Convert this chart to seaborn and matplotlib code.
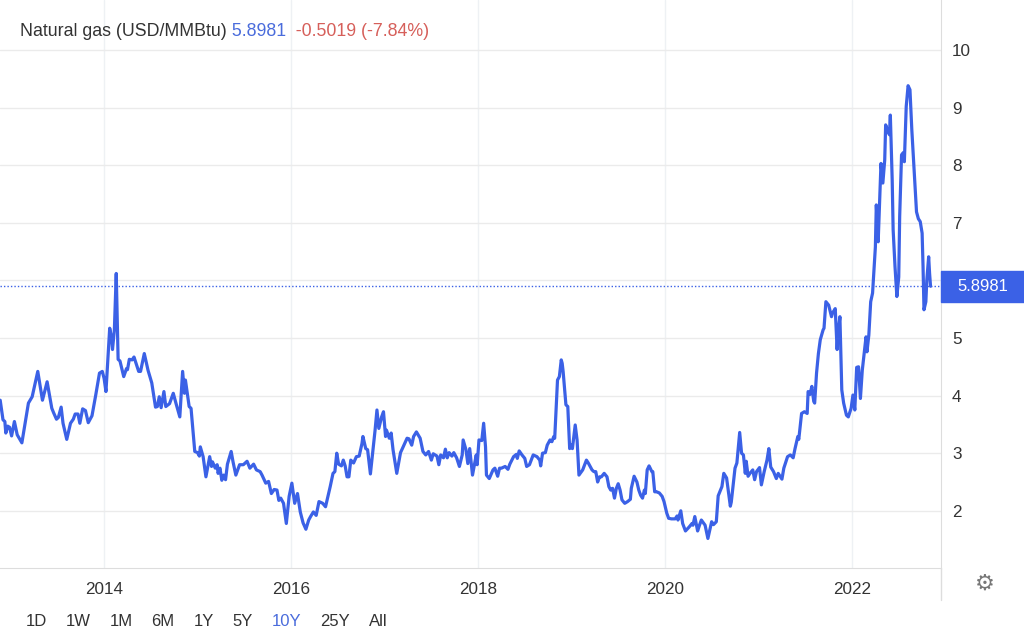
import pandas as pd
import matplotlib
matplotlib.use("Agg")
import matplotlib.pyplot as plt
import matplotlib.dates as mdates
from matplotlib.patches import Rectangle
from matplotlib.lines import Line2D
from matplotlib.transforms import blended_transform_factory
import seaborn as sns

# price history (decimal year, USD/MMBtu)
years = [
    2012.89, 2012.92, 2012.94, 2012.95, 2012.97, 2012.99, 2013.01, 2013.04, 2013.07, 2013.12,
    2013.19, 2013.23, 2013.29, 2013.34, 2013.39, 2013.44, 2013.46, 2013.49, 2013.51, 2013.54,
    2013.56, 2013.60, 2013.64, 2013.67, 2013.69, 2013.72, 2013.74, 2013.77, 2013.80, 2013.83,
    2013.87, 2013.91, 2013.95, 2013.98, 2014.00, 2014.02, 2014.06, 2014.08, 2014.09, 2014.11,
    2014.13, 2014.15, 2014.17, 2014.21, 2014.24, 2014.25, 2014.27, 2014.30, 2014.32, 2014.37,
    2014.39, 2014.43, 2014.47, 2014.51, 2014.55, 2014.57, 2014.59, 2014.61, 2014.64, 2014.66,
    2014.70, 2014.74, 2014.77, 2014.81, 2014.84, 2014.86, 2014.87, 2014.91, 2014.93, 2014.97,
    2015.00, 2015.02, 2015.03, 2015.06, 2015.09, 2015.13, 2015.15, 2015.16, 2015.19, 2015.21,
    2015.22, 2015.24, 2015.26, 2015.28, 2015.30, 2015.32, 2015.36,
    2015.38, 2015.41, 2015.45, 2015.49, 2015.53, 2015.56, 2015.60, 2015.63, 2015.67, 2015.69,
    2015.73, 2015.76, 2015.79, 2015.82, 2015.85, 2015.87, 2015.89, 2015.92, 2015.95, 2015.98,
    2016.01, 2016.04, 2016.07, 2016.10, 2016.13, 2016.16, 2016.19, 2016.21, 2016.24, 2016.27,
    2016.30, 2016.34, 2016.37, 2016.42, 2016.45, 2016.47, 2016.49, 2016.51, 2016.54, 2016.56,
    2016.58, 2016.60, 2016.62, 2016.64, 2016.67, 2016.70, 2016.73, 2016.76, 2016.77, 2016.80,
    2016.82, 2016.85, 2016.87, 2016.90, 2016.92, 2016.94, 2016.97, 2016.99, 2017.01, 2017.02,
    2017.05, 2017.07, 2017.09, 2017.13, 2017.17, 2017.19, 2017.24, 2017.26, 2017.29, 2017.31,
    2017.34, 2017.38, 2017.41, 2017.44, 2017.47, 2017.50, 2017.52, 2017.56, 2017.58, 2017.60,
    2017.63, 2017.65, 2017.67, 2017.69, 2017.72, 2017.74, 2017.77, 2017.80, 2017.83, 2017.84,
    2017.87, 2017.89, 2017.91, 2017.94, 2017.98, 2017.99, 2018.01, 2018.04, 2018.06, 2018.08,
    2018.09, 2018.12, 2018.16, 2018.18, 2018.21, 2018.23, 2018.25, 2018.29, 2018.32, 2018.34,
    2018.38, 2018.41, 2018.42, 2018.44, 2018.47, 2018.50, 2018.52, 2018.55, 2018.59, 2018.63,
    2018.66, 2018.67, 2018.69, 2018.72, 2018.74, 2018.77, 2018.79, 2018.81, 2018.82, 2018.85,
    2018.87, 2018.89, 2018.90, 2018.91, 2018.94, 2018.96, 2018.98, 2019.00, 2019.01, 2019.04,
    2019.06, 2019.08, 2019.12, 2019.16, 2019.18, 2019.22, 2019.24, 2019.26, 2019.28, 2019.30,
    2019.32, 2019.35, 2019.38, 2019.40, 2019.42, 2019.44, 2019.46, 2019.48, 2019.50, 2019.52,
    2019.54, 2019.57, 2019.60, 2019.63, 2019.64, 2019.67, 2019.70, 2019.72, 2019.74, 2019.76,
    2019.78, 2019.79, 2019.81, 2019.83, 2019.86, 2019.87, 2019.89, 2019.91, 2019.94, 2019.97,
    2019.99, 2020.02, 2020.04, 2020.07, 2020.11, 2020.13, 2020.14, 2020.17, 2020.19, 2020.22,
    2020.26, 2020.29, 2020.30, 2020.32, 2020.35, 2020.37, 2020.39, 2020.43, 2020.46, 2020.50,
    2020.52, 2020.55, 2020.57, 2020.61, 2020.63, 2020.66, 2020.70, 2020.71, 2020.75, 2020.77,
    2020.80, 2020.82, 2020.84, 2020.86, 2020.87, 2020.89, 2020.91, 2020.94, 2020.96, 2020.98,
    2021.01, 2021.03, 2021.06, 2021.09, 2021.11, 2021.13, 2021.16, 2021.19, 2021.21, 2021.23,
    2021.25, 2021.27, 2021.31, 2021.34, 2021.37, 2021.39, 2021.42, 2021.43, 2021.46, 2021.49,
    2021.52, 2021.53, 2021.55, 2021.57, 2021.59, 2021.60, 2021.62, 2021.64, 2021.66, 2021.69,
    2021.70, 2021.72, 2021.75, 2021.78, 2021.79, 2021.82, 2021.84, 2021.85, 2021.87, 2021.89,
    2021.91, 2021.94, 2021.96, 2021.99, 2022.01, 2022.03, 2022.05, 2022.07, 2022.09, 2022.11,
    2022.13, 2022.15, 2022.16, 2022.18, 2022.20, 2022.22, 2022.25, 2022.26, 2022.28, 2022.29,
    2022.31, 2022.33, 2022.35, 2022.36, 2022.38, 2022.40, 2022.41, 2022.43, 2022.44, 2022.46,
    2022.48, 2022.50, 2022.51, 2022.53, 2022.55, 2022.56, 2022.58, 2022.60, 2022.62, 2022.64,
    2022.66, 2022.67, 2022.69, 2022.71, 2022.73, 2022.75, 2022.76, 2022.77, 2022.79, 2022.80,
    2022.82, 2022.83, 2022.84,
]

prices = [
    3.92, 3.58, 3.55, 3.35, 3.47, 3.45, 3.30, 3.55, 3.32, 3.18,
    3.87, 3.98, 4.42, 3.92, 4.24, 3.78, 3.70, 3.59, 3.62, 3.80,
    3.52, 3.24, 3.52, 3.59, 3.68, 3.68, 3.52, 3.77, 3.74, 3.53,
    3.65, 4.01, 4.39, 4.42, 4.30, 4.07, 5.17, 5.00, 4.80, 5.14,
    6.12, 4.63, 4.60, 4.33, 4.47, 4.45, 4.63, 4.62, 4.67, 4.42,
    4.42, 4.73, 4.44, 4.22, 3.80, 3.81, 3.98, 3.79, 4.07, 3.81,
    3.86, 4.04, 3.86, 3.63, 4.42, 4.04, 4.27, 3.81, 3.78, 3.03,
    3.01, 2.95, 3.11, 2.94, 2.59, 2.94, 2.77, 2.85, 2.74, 2.80,
    2.65, 2.74, 2.53, 2.62, 2.54, 2.81, 3.03,
    2.85, 2.62, 2.80, 2.80, 2.86, 2.74, 2.81, 2.71, 2.68, 2.62,
    2.48, 2.51, 2.30, 2.37, 2.36, 2.18, 2.22, 2.13, 1.78, 2.25,
    2.48, 2.13, 2.30, 1.98, 1.79, 1.68, 1.84, 1.90, 1.98, 1.92,
    2.16, 2.13, 2.07, 2.42, 2.65, 2.68, 3.00, 2.81, 2.78, 2.88,
    2.78, 2.59, 2.59, 2.88, 2.83, 2.94, 2.95, 3.17, 3.29, 3.08,
    3.06, 2.64, 2.94, 3.40, 3.75, 3.43, 3.63, 3.72, 3.29, 3.40,
    3.26, 3.35, 3.06, 2.65, 3.01, 3.08, 3.26, 3.25, 3.14, 3.29,
    3.37, 3.26, 3.03, 2.97, 3.03, 2.88, 2.99, 2.95, 2.80, 2.97,
    2.92, 3.07, 2.92, 3.01, 2.95, 3.01, 2.92, 2.77, 2.97, 3.23,
    3.06, 2.82, 3.08, 2.62, 2.97, 2.80, 3.23, 3.22, 3.52, 3.11,
    2.62, 2.56, 2.71, 2.74, 2.60, 2.74, 2.74, 2.77, 2.72, 2.81,
    2.94, 2.98, 2.91, 3.04, 2.97, 2.91, 2.77, 2.80, 2.97, 2.94,
    2.88, 2.78, 3.00, 3.01, 3.14, 3.23, 3.20, 3.29, 3.26, 4.27,
    4.33, 4.62, 4.56, 4.42, 3.84, 3.81, 3.08, 3.14, 3.08, 3.49,
    3.23, 2.62, 2.71, 2.88, 2.83, 2.71, 2.68, 2.68, 2.50, 2.59,
    2.59, 2.65, 2.59, 2.42, 2.36, 2.39, 2.22, 2.39, 2.47, 2.36,
    2.19, 2.13, 2.16, 2.20, 2.39, 2.60, 2.50, 2.36, 2.27, 2.22,
    2.36, 2.30, 2.71, 2.78, 2.68, 2.68, 2.33, 2.33, 2.31, 2.25,
    2.16, 1.96, 1.87, 1.86, 1.86, 1.91, 1.84, 2.00, 1.78, 1.65,
    1.72, 1.78, 1.75, 1.90, 1.65, 1.75, 1.84, 1.75, 1.52, 1.81,
    1.76, 1.81, 2.26, 2.42, 2.65, 2.57, 2.08, 2.15, 2.74, 2.83,
    3.36, 3.00, 2.97, 2.65, 2.86, 2.60, 2.65, 2.71, 2.54, 2.68,
    2.75, 2.45, 2.68, 2.88, 3.08, 2.76, 2.68, 2.56, 2.65, 2.60,
    2.55, 2.74, 2.94, 2.97, 2.92, 3.08, 3.29, 3.24, 3.69, 3.72,
    3.69, 4.07, 4.02, 4.16, 3.90, 3.87, 4.39, 4.73, 4.97, 5.14,
    5.17, 5.63, 5.57, 5.37, 5.43, 5.51, 4.80, 5.08, 5.37, 4.10,
    3.87, 3.66, 3.63, 3.78, 4.01, 3.75, 4.49, 4.50, 3.95, 4.44,
    4.73, 5.02, 4.76, 5.05, 5.63, 5.78, 6.58, 7.31, 6.67, 7.14,
    8.03, 7.69, 8.09, 8.70, 8.61, 8.53, 8.87, 7.74, 6.88, 6.24,
    5.72, 6.06, 7.11, 8.18, 8.22, 8.06, 9.02, 9.38, 9.31, 8.61,
    8.03, 7.74, 7.19, 7.07, 7.02, 6.82, 6.24, 5.49, 5.63, 6.00,
    6.41, 6.12, 5.8981,
]
assert len(years) == len(prices)

change = -0.5019
change_pct = -7.84
tick_years = [2014, 2016, 2018, 2020, 2022]
y_ticks = [2, 3, 4, 5, 6, 7, 8, 9, 10]
y_labels = ["2", "3", "4", "5", "", "7", "8", "9", "10"]  # 6 sits under the price badge
ranges = ["1D", "1W", "1M", "6M", "1Y", "5Y", "10Y", "25Y", "All"]
active_range = "10Y"

BLUE = "#3b61e6"
TEXT_BLUE = "#4a6cdc"
RED = "#d65f5a"
DARK = "#333333"
GRID = "#ebebeb"


def year_to_date(y):
    yr = int(y)
    return pd.Timestamp(year=yr, month=1, day=1) + pd.Timedelta(days=(y - yr) * 365.25)


df = pd.DataFrame({"date": [year_to_date(y) for y in years], "price": prices})
last = prices[-1]

sns.set_style("white")
plt.rcParams["font.family"] = ["Liberation Sans", "DejaVu Sans"]

fig = plt.figure(figsize=(10.24, 6.42), dpi=100)
ax = fig.add_axes([0, 74 / 642, 941 / 1024, 1 - 74 / 642])

sns.lineplot(data=df, x="date", y="price", ax=ax, color=BLUE, linewidth=2.3)

ax.axhline(last, color=BLUE, lw=1.0, ls=(0, (1, 1.5)), zorder=1)

ax.set_xlim(year_to_date(2012.888), year_to_date(2022.952))
ax.set_ylim(1.007, 10.868)
ax.set_yticks(y_ticks)
ax.set_yticklabels(y_labels)
ax.set_xticks([pd.Timestamp(f"{y}-01-01") for y in tick_years])
ax.xaxis.set_major_formatter(mdates.DateFormatter("%Y"))
ax.yaxis.tick_right()
ax.set_xlabel("")
ax.set_ylabel("")

ax.grid(True, color=GRID, lw=1)
ax.grid(True, axis="x", color="#eef1f4", lw=1)
for side in ["top", "left"]:
    ax.spines[side].set_visible(False)
for side in ["right", "bottom"]:
    ax.spines[side].set_color("#dddddd")
ax.tick_params(length=0, labelsize=12.3, colors=DARK)
ax.tick_params(axis="y", pad=8)
ax.tick_params(axis="x", pad=10)

# right spine continues a bit below the axis
fig.add_artist(Line2D([941 / 1024, 941 / 1024], [42 / 642, 74 / 642], color="#dddddd", lw=1))

# current value badge
trans = blended_transform_factory(ax.transAxes, ax.transData)
badge_w = 83 / 941
ax.add_patch(Rectangle((1.0, last - 0.27), badge_w, 0.54, transform=trans,
                       color=BLUE, clip_on=False, zorder=5))
ax.text(1.0 + badge_w / 2, last, f"{last:.4f}", transform=trans, ha="center", va="center",
        color="white", fontsize=12, zorder=6, clip_on=False)

# header
t1 = fig.text(20 / 1024, 1 - 32 / 642, "Natural gas (USD/MMBtu)", va="center", ha="left",
              fontsize=12.8, color=DARK)
t2 = ax.annotate(f" {last:.4f}", xy=(1, 0.5), xycoords=t1, va="center", ha="left",
                 fontsize=12.8, color=TEXT_BLUE, annotation_clip=False)
ax.annotate(f"  {change:.4f} ({change_pct:.2f}%)", xy=(1, 0.5), xycoords=t2, va="center",
            ha="left", fontsize=12.8, color=RED, annotation_clip=False)

# range selector
prev = fig.text(26 / 1024, 1 - 622 / 642, ranges[0], va="center", ha="left",
                fontsize=12, color=DARK)
for r in ranges[1:]:
    prev = ax.annotate(r, xy=(1, 0.5), xycoords=prev, xytext=(13.5, 0), textcoords="offset points",
                       va="center", ha="left", fontsize=12,
                       color=TEXT_BLUE if r == active_range else DARK, annotation_clip=False)

# settings gear
fig.text(985 / 1024, 1 - 584 / 642, "\u2699", ha="center", va="center", fontsize=16,
         color="#777777", family="DejaVu Sans")

fig.savefig("out.png", dpi=100)
